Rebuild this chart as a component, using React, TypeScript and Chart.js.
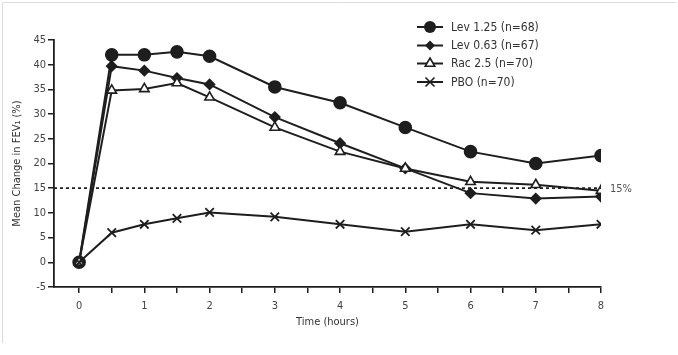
import React, { useEffect, useRef } from "react";
import { Chart, registerables } from "chart.js";

Chart.register(...registerables);

const hours = [0, 0.5, 1, 1.5, 2, 3, 4, 5, 6, 7, 8];
const lev125 = [0, 42.0, 42.0, 42.6, 41.7, 35.5, 32.3, 27.3, 22.4, 20.0, 21.6];
const lev063 = [0, 39.7, 38.8, 37.3, 36.0, 29.4, 24.1, 19.0, 14.0, 12.9, 13.3];
const rac25 = [0, 34.8, 35.1, 36.3, 33.4, 27.3, 22.4, 19.0, 16.3, 15.7, 14.5];
const pbo = [0, 6.0, 7.7, 8.9, 10.1, 9.2, 7.7, 6.2, 7.7, 6.5, 7.7];
const seriesLabels = ["Lev 1.25 (n=68)", "Lev 0.63 (n=67)", "Rac 2.5 (n=70)", "PBO (n=70)"];
const refValue = 15;
const refLabel = "15%";
const xTicks = [0, 0.5, 1, 1.5, 2, 2.5, 3, 3.5, 4, 4.5, 5, 5.5, 6, 6.5, 7, 7.5, 8];
const yMin = -5;
const yMax = 45;
const xMin = -0.385;
const xMax = 8;
const xTitle = "Time (hours)";
const yTitle = "Mean Change in FEV\u2081 (%)";

const FONT = "'Liberation Sans Narrow', 'DejaVu Sans Condensed', 'Liberation Sans', sans-serif";
const INK = "#1e1e1e";

function drawMarker(ctx: CanvasRenderingContext2D, kind: string, x: number, y: number) {
  ctx.save();
  ctx.strokeStyle = INK;
  ctx.fillStyle = INK;
  ctx.lineWidth = 1.6;
  ctx.beginPath();
  if (kind === "circle") {
    ctx.arc(x, y, 6, 0, Math.PI * 2);
    ctx.fill();
  } else if (kind === "diamond") {
    const r = 5;
    ctx.moveTo(x, y - r);
    ctx.lineTo(x + r, y);
    ctx.lineTo(x, y + r);
    ctx.lineTo(x - r, y);
    ctx.closePath();
    ctx.fill();
  } else if (kind === "triangle") {
    const r = 5.5;
    ctx.fillStyle = "#fff";
    ctx.moveTo(x, y - r);
    ctx.lineTo(x + r * 0.87, y + r * 0.5);
    ctx.lineTo(x - r * 0.87, y + r * 0.5);
    ctx.closePath();
    ctx.fill();
    ctx.stroke();
  } else {
    const r = 4.5;
    ctx.moveTo(x - r, y - r);
    ctx.lineTo(x + r, y + r);
    ctx.moveTo(x + r, y - r);
    ctx.lineTo(x - r, y + r);
    ctx.stroke();
  }
  ctx.restore();
}

const extrasPlugin = {
  id: "extras",
  afterDraw(chart: any) {
    const ctx: CanvasRenderingContext2D = chart.ctx;
    // frame
    ctx.save();
    ctx.strokeStyle = "#dcdcdc";
    ctx.lineWidth = 1;
    ctx.beginPath();
    ctx.moveTo(2.5, 343);
    ctx.lineTo(2.5, 2.5);
    ctx.lineTo(676, 2.5);
    ctx.stroke();
    ctx.restore();

    // 15% label
    const xs = chart.scales.x;
    const ys = chart.scales.y;
    ctx.save();
    ctx.fillStyle = "#555";
    ctx.font = `11px ${FONT}`;
    ctx.textBaseline = "middle";
    ctx.textAlign = "left";
    ctx.fillText(refLabel, xs.getPixelForValue(xMax) + 9, ys.getPixelForValue(refValue) + 1);
    ctx.restore();

    // legend
    const kinds = ["circle", "diamond", "triangle", "cross"];
    const rowsY = [27, 45.5, 63.5, 82];
    ctx.save();
    ctx.font = `12px ${FONT}`;
    ctx.textBaseline = "middle";
    ctx.textAlign = "left";
    seriesLabels.forEach((lab, i) => {
      const y = rowsY[i];
      ctx.strokeStyle = INK;
      ctx.lineWidth = 2;
      ctx.beginPath();
      ctx.moveTo(417, y);
      ctx.lineTo(443, y);
      ctx.stroke();
      drawMarker(ctx, kinds[i], 430, y);
      ctx.fillStyle = "#333";
      ctx.fillText(lab, 451, y + 0.5);
    });
    ctx.restore();
  },
};

export default function App() {
  const ref = useRef<HTMLCanvasElement>(null);
  useEffect(() => {
    document.body.style.margin = "0";
    const toPts = (arr: number[]) => arr.map((v, i) => ({ x: hours[i], y: v }));
    const common = {
      borderColor: INK,
      borderWidth: 2,
      pointBorderColor: INK,
      pointBorderWidth: 1.6,
      tension: 0,
      fill: false,
    };
    const chart = new Chart(ref.current!, {
      type: "line",
      data: {
        datasets: [
          {
            label: "ref",
            data: [
              { x: xMin, y: refValue },
              { x: xMax, y: refValue },
            ],
            borderColor: INK,
            borderWidth: 1.8,
            borderDash: [3, 3],
            pointRadius: 0,
            fill: false,
          },
          {
            ...common,
            label: seriesLabels[3],
            data: toPts(pbo),
            pointStyle: "crossRot",
            pointRadius: 6,
            pointBorderWidth: 1.8,
            pointBackgroundColor: INK,
          },
          {
            ...common,
            label: seriesLabels[2],
            data: toPts(rac25),
            pointStyle: "triangle",
            pointRadius: 5.5,
            pointBackgroundColor: "#fff",
          },
          {
            ...common,
            label: seriesLabels[1],
            data: toPts(lev063),
            pointStyle: "rectRot",
            pointRadius: 5,
            pointBackgroundColor: INK,
          },
          {
            ...common,
            label: seriesLabels[0],
            data: toPts(lev125),
            pointStyle: "circle",
            pointRadius: 6,
            pointBackgroundColor: INK,
          },
        ],
      },
      options: {
        animation: false,
        responsive: false,
        maintainAspectRatio: false,
        layout: { padding: { top: 40, right: 77, left: 0, bottom: 0 } },
        plugins: { legend: { display: false }, tooltip: { enabled: false } },
        scales: {
          x: {
            type: "linear",
            min: xMin,
            max: xMax,
            afterFit: (s: any) => {
              s.height = 68;
            },
            afterBuildTicks: (s: any) => {
              s.ticks = xTicks.map((v) => ({ value: v }));
            },
            grid: { display: true, drawOnChartArea: false, drawTicks: true, tickLength: 6, color: INK, lineWidth: 1.5 },
            border: { display: true, color: INK, width: 1.8 },
            ticks: {
              autoSkip: false,
              maxRotation: 0,
              padding: 7,
              color: "#444",
              font: { family: FONT, size: 11 },
              callback: (v: any) => (Number.isInteger(Number(v)) ? String(v) : ""),
            },
            title: {
              display: true,
              text: xTitle,
              color: "#333",
              font: { family: FONT, size: 11 },
              padding: { top: 0, bottom: 26 },
            },
          },
          y: {
            type: "linear",
            min: yMin,
            max: yMax,
            afterFit: (s: any) => {
              s.width = 54;
            },
            grid: { display: true, drawOnChartArea: false, drawTicks: true, tickLength: 6, color: INK, lineWidth: 1.5 },
            border: { display: true, color: INK, width: 1.8 },
            ticks: {
              stepSize: 5,
              padding: 2,
              color: "#444",
              font: { family: FONT, size: 11 },
            },
            title: {
              display: true,
              text: yTitle,
              color: "#333",
              font: { family: FONT, size: 11 },
              padding: { top: 11, bottom: 0 },
            },
          },
        },
      },
      plugins: [extrasPlugin],
    } as any);
    return () => chart.destroy();
  }, []);
  return (
    <div style={{ position: "absolute", left: 0, top: 0, width: 678, height: 355, background: "#fff" }}>
      <canvas ref={ref} width={678} height={355} style={{ display: "block" }} />
    </div>
  );
}
